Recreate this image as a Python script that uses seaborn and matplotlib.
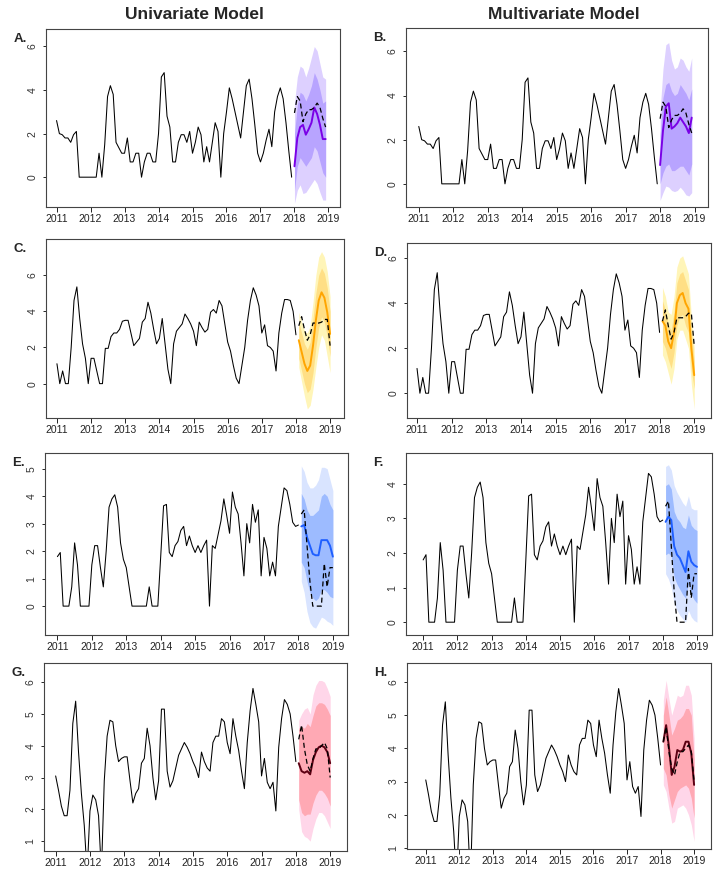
import numpy as np
import pandas as pd
import matplotlib
matplotlib.use("Agg")
import matplotlib.pyplot as plt
import seaborn as sns

sns.set_style("ticks")
plt.rcParams.update(
    {
        "font.family": ["Liberation Sans", "DejaVu Sans"],
        "font.size": 7.5,
        "axes.linewidth": 0.8,
        "axes.edgecolor": "#444444",
    }
)

# ---- data: monthly history (from Jan 2011) and 12-month forecasts ----
hist_1 = [2.6, 2.0, 1.95, 1.8, 1.8, 1.6, 1.95, 2.1, 0, 0, 0, 0,
          0, 0, 0, 1.1, 0, 1.5, 3.7, 4.2, 3.8, 1.6, 1.35, 1.1,
          1.1, 1.8, 0.7, 0.7, 1.1, 1.1, 0, 0.7, 1.1, 1.1, 0.7, 0.7,
          2.0, 4.6, 4.8, 2.8, 2.3, 0.7, 0.7, 1.6, 1.95, 1.95, 1.6, 2.1,
          1.1, 1.6, 2.3, 1.95, 0.7, 1.4, 0.7, 1.6, 2.5, 2.1, 0, 2.0,
          3.0, 4.1, 3.6, 3.0, 2.4, 1.8, 3.0, 4.2, 4.5, 3.6, 2.4, 1.1,
          0.7, 1.1, 1.7, 2.2, 1.4, 3.0, 3.7, 4.1, 3.6, 2.5, 1.2, 0]
obs_1 = [2.95, 3.7, 3.5, 2.55, 2.9, 3.1, 3.1, 3.2, 3.4, 3.2, 2.7, 2.3]
fc_a = [0.5, 1.8, 2.3, 2.4, 1.95, 2.2, 2.5, 3.2, 2.9, 2.4, 1.75, 1.75]
lo80_a = [-0.6, 0.5, 0.9, 0.7, 0.5, 0.7, 0.9, 1.4, 1.2, 0.7, 0.2, 0.0]
hi80_a = [2.0, 3.3, 3.9, 3.8, 3.5, 3.8, 4.2, 4.8, 4.5, 4.0, 3.4, 3.5]
lo95_a = [-1.2, -0.6, -0.35, -0.75, -0.7, -0.5, -0.3, -0.1, -0.3, -0.7, -1.05, -1.05]
hi95_a = [3.4, 4.6, 5.1, 5.0, 4.6, 5.0, 5.5, 6.0, 5.8, 5.2, 4.6, 4.5]
fc_b = [0.85, 2.4, 3.5, 3.65, 2.5, 2.6, 2.75, 3.0, 2.8, 2.6, 2.3, 3.0]
lo80_b = [0.0, 0.5, 0.8, 0.9, 0.6, 0.6, 0.7, 0.8, 0.8, 0.6, 0.4, 0.9]
hi80_b = [2.2, 3.9, 4.5, 4.6, 4.2, 4.0, 4.1, 4.5, 4.3, 4.1, 3.8, 4.3]
lo95_b = [-0.75, -0.4, -0.1, -0.15, -0.3, -0.35, -0.3, -0.15, -0.3, -0.5, -0.55, -0.4]
hi95_b = [3.3, 5.2, 6.3, 6.4, 5.6, 5.2, 5.3, 5.7, 5.6, 5.3, 5.1, 5.7]

hist_2 = [1.1, 0, 0.7, 0, 0, 2.0, 4.6, 5.35, 3.6, 2.2, 1.4, 0,
          1.4, 1.4, 0.7, 0, 0, 1.95, 1.95, 2.6, 2.8, 2.8, 3.0, 3.45,
          3.5, 3.5, 2.8, 2.1, 2.3, 2.5, 3.4, 3.6, 4.5, 3.9, 3.0, 2.2,
          2.5, 3.6, 2.2, 0.8, 0, 2.2, 2.9, 3.1, 3.3, 3.85, 3.6, 3.3,
          2.9, 2.1, 3.4, 3.1, 2.85, 3.0, 3.95, 4.1, 3.9, 4.6, 4.3, 3.3,
          2.3, 1.8, 1.0, 0.3, 0, 1.0, 2.0, 3.5, 4.6, 5.3, 4.9, 4.3,
          2.8, 3.25, 2.1, 2.0, 1.8, 0.7, 2.8, 3.9, 4.65, 4.65, 4.6, 4.0,
          2.7]
obs_2 = [3.2, 3.7, 3.0, 2.4, 2.7, 3.35, 3.35, 3.35, 3.4, 3.55, 3.55, 2.1]
fc_c = [2.4, 1.75, 1.1, 0.7, 1.0, 2.1, 3.5, 4.6, 5.05, 4.75, 3.95, 2.75]
lo80_c = [1.4, 0.7, 0.0, -0.5, -0.3, 0.6, 2.0, 3.1, 3.7, 3.4, 2.6, 1.5]
hi80_c = [3.4, 2.8, 2.2, 1.9, 2.3, 3.6, 5.0, 6.0, 6.4, 6.1, 5.3, 4.0]
lo95_c = [0.9, 0.1, -0.7, -1.4, -1.2, -0.3, 0.9, 2.0, 2.7, 2.4, 1.5, 0.6]
hi95_c = [3.95, 3.4, 2.9, 2.8, 3.2, 4.5, 6.0, 7.0, 7.3, 7.0, 6.2, 4.8]
fc_d = [3.2, 3.0, 2.3, 2.0, 2.7, 4.0, 4.35, 4.45, 4.0, 3.75, 2.0, 0.8]
lo80_d = [2.3, 2.0, 1.5, 1.1, 1.8, 3.0, 3.4, 3.5, 3.0, 2.7, 1.0, 0.2]
hi80_d = [4.1, 3.7, 3.0, 2.8, 3.6, 4.9, 5.3, 5.4, 5.0, 4.6, 2.8, 1.4]
lo95_d = [1.7, 1.4, 0.9, 0.4, 1.1, 2.4, 2.8, 2.8, 2.4, 2.0, 0.4, -0.7]
hi95_d = [4.7, 4.3, 3.6, 3.5, 4.3, 5.6, 6.0, 6.1, 5.7, 5.3, 3.4, 2.0]

hist_3 = [1.8, 1.95, 0, 0, 0, 0.7, 2.3, 1.5, 0, 0, 0, 0,
          1.5, 2.2, 2.2, 1.4, 0.7, 2.0, 3.6, 3.9, 4.05, 3.6, 2.3, 1.7,
          1.4, 0.7, 0, 0, 0, 0, 0, 0, 0.7, 0, 0, 0,
          1.8, 3.65, 3.7, 1.95, 1.8, 2.2, 2.35, 2.75, 2.9, 2.2, 2.55, 2.2,
          1.95, 2.2, 1.95, 2.2, 2.4, 0, 2.2, 2.1, 2.6, 3.1, 3.9, 3.3,
          2.65, 4.15, 3.6, 3.35, 2.3, 1.1, 3.0, 2.3, 3.7, 3.05, 3.5, 1.1,
          2.5, 2.1, 1.1, 1.6, 1.1, 2.9, 3.6, 4.3, 4.2, 3.7, 3.05, 2.9,
          2.95]
obs_3 = [3.35, 3.5, 2.2, 0.9, 0, 0, 0, 0, 1.55, 0.7, 1.4, 1.4]
fc_e = [2.9, 2.95, 2.5, 2.2, 1.9, 1.85, 1.85, 2.4, 2.4, 2.4, 2.2, 1.8]
lo80_e = [1.6, 1.4, 0.9, 0.5, 0.3, 0.2, 0.3, 0.6, 0.6, 0.5, 0.35, 0.3]
hi80_e = [4.1, 3.9, 3.5, 3.3, 3.3, 3.4, 3.5, 4.0, 4.1, 4.0, 3.7, 3.5]
lo95_e = [0.9, 0.5, -0.2, -0.6, -0.75, -0.8, -0.6, -0.4, -0.45, -0.55, -0.6, -0.7]
hi95_e = [5.1, 4.9, 4.5, 4.3, 4.3, 4.4, 4.6, 5.05, 5.05, 5.0, 4.6, 4.2]
fc_f = [2.9, 3.05, 2.95, 2.2, 1.95, 1.85, 1.65, 1.45, 2.05, 1.75, 1.65, 1.6]
lo80_f = [1.95, 2.0, 1.9, 1.3, 1.1, 0.95, 0.8, 0.7, 1.1, 0.8, 0.65, 0.55]
hi80_f = [3.95, 4.0, 3.85, 3.2, 3.0, 2.9, 2.75, 2.7, 3.1, 2.8, 2.7, 2.65]
lo95_f = [1.4, 1.25, 1.0, 0.55, 0.35, 0.2, 0.1, 0.0, 0.35, 0.15, 0.05, 0.0]
hi95_f = [4.5, 4.55, 4.4, 3.95, 3.75, 3.6, 3.45, 3.35, 3.65, 3.3, 3.25, 3.25]

hist_4 = [3.05, 2.6, 2.1, 1.8, 1.8, 2.6, 4.7, 5.4, 3.8, 2.5, 1.5, 0,
          1.95, 2.45, 2.3, 1.8, 0, 2.9, 4.3, 4.8, 4.75, 4.0, 3.5, 3.6,
          3.65, 3.65, 2.9, 2.2, 2.5, 2.65, 3.45, 3.6, 4.55, 4.0, 3.0, 2.3,
          2.9, 5.15, 5.15, 3.2, 2.7, 2.9, 3.3, 3.7, 3.9, 4.1, 3.95, 3.75,
          3.5, 3.3, 3.0, 3.8, 3.5, 3.3, 3.2, 4.1, 4.3, 4.3, 4.85, 4.75,
          4.1, 3.75, 4.85, 4.3, 3.85, 3.2, 2.65, 4.1, 5.1, 5.8, 5.3, 4.75,
          3.05, 3.6, 2.85, 2.65, 2.85, 1.95, 3.95, 4.85, 5.45, 5.3, 5.0, 4.3,
          3.5]
obs_4 = [4.2, 4.65, 3.9, 3.4, 3.2, 3.6, 3.9, 3.9, 4.0, 4.1, 3.9, 3.0]
fc_g = [3.45, 3.2, 3.15, 3.2, 3.1, 3.55, 3.8, 3.95, 4.0, 3.95, 3.8, 3.45]
lo80_g = [2.3, 1.9, 1.8, 1.85, 1.85, 2.2, 2.45, 2.6, 2.6, 2.5, 2.35, 2.1]
hi80_g = [4.55, 4.6, 4.55, 4.7, 4.6, 4.95, 5.25, 5.35, 5.35, 5.3, 5.15, 4.95]
lo95_g = [2.0, 1.3, 1.15, 1.1, 1.0, 1.4, 1.7, 1.9, 1.9, 1.8, 1.6, 1.4]
hi95_g = [4.8, 5.0, 5.15, 5.2, 5.0, 5.6, 5.9, 6.05, 6.05, 6.0, 5.8, 5.55]
fc_h = [4.2, 4.7, 4.05, 3.2, 3.45, 3.95, 3.9, 3.95, 4.2, 4.2, 3.85, 2.9]
lo80_h = [3.4, 3.2, 2.6, 2.2, 2.45, 2.7, 2.8, 2.85, 2.9, 2.8, 2.5, 1.9]
hi80_h = [5.0, 5.55, 5.0, 4.4, 4.6, 4.85, 4.9, 5.0, 5.2, 5.2, 5.0, 3.7]
lo95_h = [2.9, 2.7, 2.2, 1.75, 1.8, 2.2, 2.25, 2.3, 2.2, 2.0, 1.7, 1.2]
hi95_h = [5.45, 6.05, 5.5, 5.0, 5.3, 5.6, 5.55, 5.6, 5.9, 5.9, 5.6, 4.3]

year_ticks = [2011, 2012, 2013, 2014, 2015, 2016, 2017, 2018, 2019]
col_titles = ["Univariate Model", "Multivariate Model"]

# ---- styles ----
purple = ("#7a00e6", "#b8a4ff", "#ddd0ff")
orange = ("#ffa500", "#ffdf85", "#fff5b8")
blue = ("#1f5fff", "#9dbbff", "#d9e4ff")
pink = ("#5c0012", "#ffa9b4", "#ffd6e9")

panels = [
    # label, hist, obs, fc, lo80, hi80, lo95, hi95, colors, rect, xlim, ylim, yticks
    ("A.", hist_1, obs_1, fc_a, lo80_a, hi80_a, lo95_a, hi95_a, purple,
     [0.0633, 0.7634, 0.4044, 0.2034], (2010.69, 2019.34), (-1.37, 6.8), [0, 2, 4, 6]),
    ("B.", hist_1, obs_1, fc_b, lo80_b, hi80_b, lo95_b, hi95_b, purple,
     [0.5585, 0.7634, 0.4154, 0.2046], (2010.63, 2019.39), (-1.05, 7.06), [0, 2, 4, 6]),
    ("C.", hist_2, obs_2, fc_c, lo80_c, hi80_c, lo95_c, hi95_c, orange,
     [0.0633, 0.5223, 0.4100, 0.2046], (2010.68, 2019.41), (-1.9, 8.0), [0, 2, 4, 6]),
    ("D.", hist_2, obs_2, fc_d, lo80_d, hi80_d, lo95_d, hi95_d, orange,
     [0.5598, 0.5223, 0.4180, 0.2000], (2010.71, 2019.48), (-1.1, 6.67), [0, 2, 4, 6]),
    ("E.", hist_3, obs_3, fc_e, lo80_e, hi80_e, lo95_e, hi95_e, blue,
     [0.0619, 0.2743, 0.4168, 0.2080], (2010.64, 2019.44), (-1.05, 5.57), [0, 1, 2, 3, 4, 5]),
    ("F.", hist_3, obs_3, fc_f, lo80_f, hi80_f, lo95_f, hi95_f, blue,
     [0.5585, 0.2743, 0.4209, 0.2080], (2010.50, 2019.44), (-0.37, 4.89), [0, 1, 2, 3, 4]),
    ("G.", hist_4, obs_4, fc_g, lo80_g, hi80_g, lo95_g, hi95_g, pink,
     [0.0605, 0.0274, 0.4168, 0.2149], (2010.66, 2019.49), (0.69, 6.6), [1, 2, 3, 4, 5, 6]),
    ("H.", hist_4, obs_4, fc_h, lo80_h, hi80_h, lo95_h, hi95_h, pink,
     [0.5598, 0.0297, 0.4180, 0.2126], (2010.44, 2019.50), (0.97, 6.57), [1, 2, 3, 4, 5, 6]),
]


def draw_panel(fig, label, hist, obs, fc, lo80, hi80, lo95, hi95, colors, rect, xlim, ylim, yticks):
    ax = fig.add_axes(rect)
    line_c, c80, c95 = colors

    t_hist = 2011 + np.arange(len(hist)) / 12
    t_fc = t_hist[-1] + np.arange(1, len(fc) + 1) / 12
    df_hist = pd.DataFrame({"time": t_hist, "value": hist})
    df_fc = pd.DataFrame({"time": t_fc, "fc": fc, "obs": obs,
                          "lo80": lo80, "hi80": hi80, "lo95": lo95, "hi95": hi95})

    sns.lineplot(data=df_hist, x="time", y="value", color="black", linewidth=0.75, ax=ax)
    ax.fill_between(df_fc["time"], df_fc["lo95"], df_fc["hi95"], color=c95, linewidth=0)
    ax.fill_between(df_fc["time"], df_fc["lo80"], df_fc["hi80"], color=c80, linewidth=0)
    sns.lineplot(data=df_fc, x="time", y="fc", color=line_c, linewidth=1.4, ax=ax)
    sns.lineplot(data=df_fc, x="time", y="obs", color="black", linewidth=0.9,
                 linestyle=(0, (4, 2.5)), ax=ax)

    ax.set_xlim(*xlim)
    ax.set_ylim(*ylim)
    ax.set_xticks(year_ticks)
    ax.set_xticklabels([str(y) for y in year_ticks])
    ax.set_yticks(yticks)
    ax.set_yticklabels([str(v) for v in yticks], rotation=90, va="center", color="#333333")
    ax.tick_params(axis="x", length=3.5, width=0.7, pad=1.5, labelsize=7.5, colors="#222222")
    ax.tick_params(axis="y", length=2.5, width=0.7, pad=3.5, labelsize=7.5)
    ax.set_xlabel("")
    ax.set_ylabel("")
    for s in ax.spines.values():
        s.set_visible(True)

    fig.text(rect[0] - 0.045, rect[1] + rect[3] - 0.011, label,
             fontsize=9.5, fontweight="bold", ha="left", va="center")
    return ax


fig = plt.figure(figsize=(7.27, 8.75), dpi=100)

for p in panels:
    draw_panel(fig, *p)

fig.text(0.2675, 0.983, col_titles[0], fontsize=12.5, fontweight="bold", ha="center", va="center")
fig.text(0.775, 0.983, col_titles[1], fontsize=12.5, fontweight="bold", ha="center", va="center")

fig.savefig("out.png", dpi=100)
plt.close(fig)
